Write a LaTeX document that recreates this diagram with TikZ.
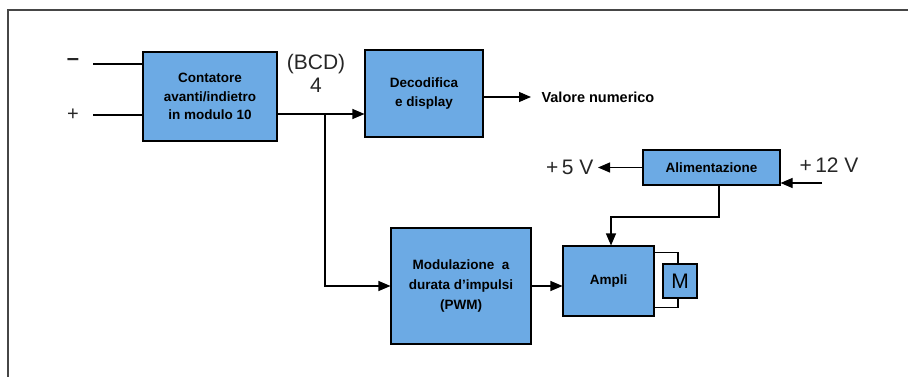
\documentclass[tikz,border=0pt]{standalone}
\usepackage{fontspec}
\setmainfont{Liberation Sans}
\usetikzlibrary{arrows.meta,positioning,calc}
\definecolor{blockblue}{RGB}{108,170,228}
\definecolor{framegray}{RGB}{70,70,70}
\tikzset{
  blockbox/.style={draw=black, fill=blockblue, line width=1.1pt, align=center,
    inner sep=0pt, font=\fontsize{13.5}{18.5}\selectfont\bfseries},
  sig/.style={line width=1.1pt, -{Triangle[length=12pt,width=10pt]}},
  wire/.style={line width=1.1pt},
  thinlabel/.style={font=\fontsize{21}{22}\selectfont, text=black!85}
}

\begin{document}
\begin{tikzpicture}[x=1pt, y=-1pt]
  \useasboundingbox (0,0) rectangle (908,377);
  \draw[framegray, line width=1.5pt] (908,10) -- (8,10) -- (8,377);
  % blocks
  \node[blockbox, minimum width=134pt, minimum height=89pt] (cont) at (210,96.5)
    {Contatore\\avanti/indietro\\in modulo 10};
  \node[blockbox, minimum width=118pt, minimum height=87pt] (deco) at (424,93.5)
    {Decodifica\\e display};
  \node[blockbox, minimum width=140pt, minimum height=116pt,
    font=\fontsize{13.5}{20}\selectfont\bfseries] (pwm) at (461,286)
    {Modulazione\ \ a\\durata d'impulsi\\(PWM)};
  \node[blockbox, minimum width=91pt, minimum height=70pt] (ampli) at (608.5,281) {Ampli};
  \node[blockbox, minimum width=34pt, minimum height=34pt,
    font=\fontsize{21}{21}\selectfont] (motor) at (680,281) {M};
  \node[blockbox, minimum width=137pt, minimum height=35pt] (alim) at (711.5,167.5)
    {Alimentazione};
  % inputs
  \coordinate (minus) at (93,64);
  \coordinate (plus) at (93,115);
  \node[thinlabel, font=\fontsize{22}{22}\selectfont\bfseries] (minuslbl) at (73,62) {--};
  \node[thinlabel, font=\fontsize{20}{20}\selectfont] (pluslbl) at (73,115) {+};
  \draw[wire] (minus) -- (minus -| cont.west);
  \draw[wire] (plus) -- (plus -| cont.west);
  % BCD bus
  \coordinate (split) at (325,114);
  \node[thinlabel, align=center, font=\fontsize{21}{23}\selectfont] (bcd) at (316,73) {(BCD)\\4};
  \draw[wire] (split -| cont.east) -- (split);
  \draw[sig] (split) -- (split -| deco.west);
  \draw[sig] (split) |- (pwm.west);
  \draw[sig] (pwm.east) -- (pwm.east -| ampli.west);
  % display output
  \coordinate (valore) at (531,97);
  \draw[sig] (valore -| deco.east) -- (valore);
  \node[anchor=west, font=\fontsize{14.5}{16}\selectfont\bfseries] (valorelbl) at (538,97)
    {Valore numerico};
  % supply
  \coordinate (v5) at (598,167.5);
  \coordinate (v12) at (822,183);
  \draw[sig] (alim.west) -- (v5);
  \node[thinlabel, anchor=east] (v5lbl) at (597,167) {+\,5 V};
  \draw[sig] (v12) -- (v12 -| alim.east);
  \node[thinlabel] (v12lbl) at (829,165) {+\,12 V};
  \coordinate (tap) at (719,217);
  \coordinate (drop) at (611,217);
  \draw[sig] (tap |- alim.south) -- (tap) -- (drop) -- (drop |- ampli.north);
  % motor leads
  \draw[wire] ([yshift=-7pt]ampli.north east) -| ([xshift=-2pt]motor.north);
  \draw[wire] ([yshift=9pt]ampli.south east) -| ([xshift=-2pt]motor.south);
\end{tikzpicture}
\end{document}
